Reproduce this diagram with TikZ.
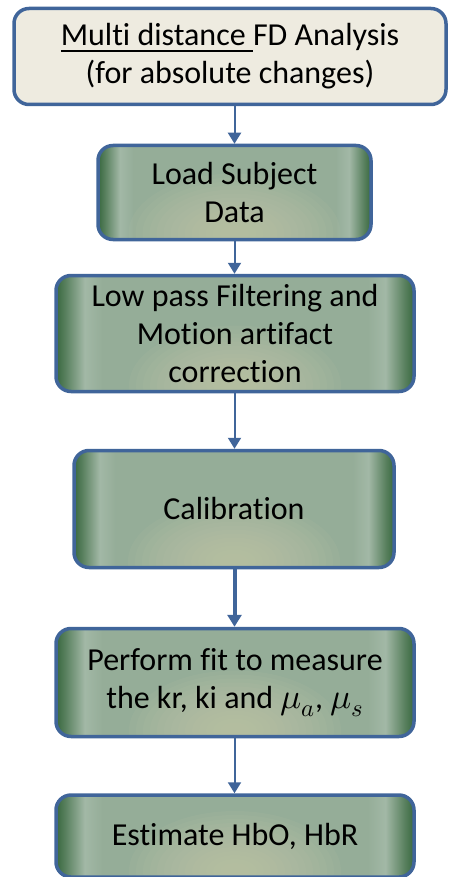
\documentclass[tikz,border=0pt]{standalone}
\usepackage{fontspec}
\setmainfont{Carlito}[Ligatures=CommonOff]
\usepackage{unicode-math}
\setmathfont{Latin Modern Math}[Scale=1.1]
\usetikzlibrary{arrows.meta}

\definecolor{frameblue}{HTML}{40659A}
\definecolor{beige}{HTML}{EEEBE0}
\definecolor{edgegreen}{HTML}{38683F}
\definecolor{midgreen}{HTML}{95AD98}
\definecolor{bandgreen}{HTML}{A2B8A6}
\definecolor{glow}{HTML}{C4C8AA}

% the path spans 25bp..75bp: dark edges, a pale band inside, flat sage middle
\pgfdeclarehorizontalshading{sageshade}{100bp}{%
  color(0bp)=(edgegreen);
  color(25bp)=(edgegreen);
  color(26.3bp)=(edgegreen!65!midgreen);
  color(29bp)=(bandgreen);
  color(31.5bp)=(midgreen);
  color(68.5bp)=(midgreen);
  color(71bp)=(bandgreen);
  color(73.7bp)=(edgegreen!65!midgreen);
  color(75bp)=(edgegreen);
  color(100bp)=(edgegreen)}

\tikzset{
  framebox/.style={draw=frameblue, line width=3.5pt, rounded corners=15pt,
    align=center, text=black, font=\fontsize{32}{38}\selectfont},
  titlebox/.style={framebox, fill=beige},
  stepbox/.style={framebox, shading=sageshade,
    path picture={
      % soft pale glow rising from the bottom centre
      \foreach \k in {1,...,14}{
        \fill[glow, opacity=0.09]
          ([yshift=6pt]path picture bounding box.south)
          ellipse [x radius={8pt+7pt*\k}, y radius={4pt+4pt*\k}];
      }
    }},
  flow/.style={draw=frameblue, line width=2pt,
    -{Triangle[width=13pt,length=11pt]}},
  thickflow/.style={flow, line width=4pt,
    -{Triangle[width=14pt,length=12pt]}}
}

\begin{document}
\begin{tikzpicture}[x=1pt,y=-1pt]
\useasboundingbox (0,0) rectangle (448,877);

\node[titlebox, minimum width=432pt, minimum height=96pt] (title) at (230,56.5)
  {\underline{Multi distance }FD Analysis\\(for absolute changes)};

\node[stepbox, minimum width=273pt, minimum height=94pt] (load) at (234.5,192.5)
  {Load Subject\\Data};

\node[stepbox, minimum width=358pt, minimum height=116pt] (filter) at (235,333.5)
  {Low pass Filtering and\\Motion artifact\\correction};

\node[stepbox, minimum width=320pt, minimum height=117pt] (calib) at (234,509)
  {Calibration};

\node[stepbox, minimum width=358pt, minimum height=108pt] (fit) at (235,682.5)
  {Perform fit to measure\\the kr, ki and $\mu_a$, $\mu_s$};

\node[stepbox, minimum width=358pt, minimum height=82pt] (hb) at (235,836)
  {Estimate HbO, HbR};

\draw[flow] (title.south -| load.north) -- (load.north);
\draw[flow] (load.south) -- (filter.north -| load.south);
\draw[flow] (filter.south -| load.south) -- (calib.north -| load.south);
\draw[thickflow] (calib.south -| load.south) -- (fit.north -| load.south);
\draw[flow] (fit.south -| load.south) -- (hb.north -| load.south);
\end{tikzpicture}
\end{document}
